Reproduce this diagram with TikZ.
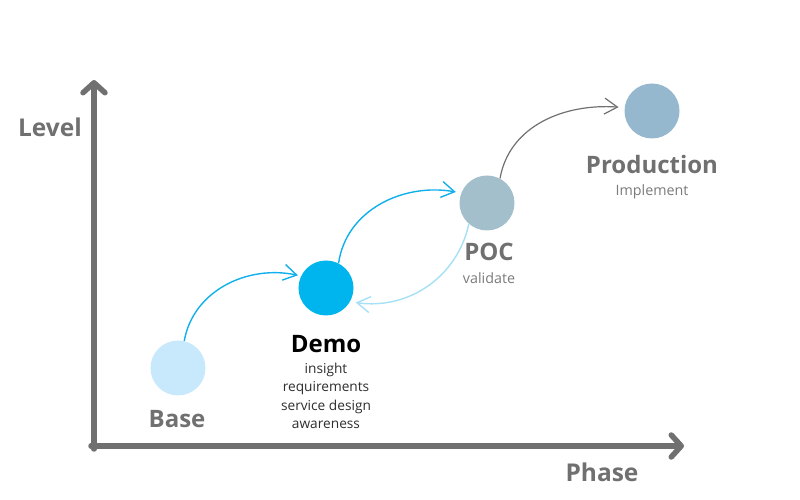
\documentclass[tikz,border=0pt]{standalone}
\usepackage{fontspec}
\setmainfont{Open Sans}
\usetikzlibrary{arrows.meta}
\definecolor{axisgray}{HTML}{707070}
\definecolor{basecol}{HTML}{C8E8FB}
\definecolor{democol}{HTML}{00B5EE}
\definecolor{poccol}{HTML}{A3BFCC}
\definecolor{prodcol}{HTML}{96B8CF}
\definecolor{arrowblue}{HTML}{12B0EA}
\definecolor{arrowlight}{HTML}{A6E0F6}
\definecolor{subgray}{HTML}{7A7A7A}
\definecolor{subdark}{HTML}{2E2E2E}
\tikzset{
  phase/.style={circle, minimum size=55pt, inner sep=0pt},
  axislabel/.style={font=\fontsize{24.5}{28}\selectfont\bfseries, text=axisgray},
  title/.style={font=\fontsize{24}{28}\selectfont\bfseries, text=axisgray},
  sub/.style={font=\fontsize{14.3}{17}\selectfont, text=subgray},
  axisline/.style={line width=5.5pt, draw=axisgray, line cap=round,
    -{Straight Barb[length=10pt,width=22pt,round]}},
  flow/.style={line width=1.4pt, -{Straight Barb[length=13pt,width=16pt]}},
}
\begin{document}
\begin{tikzpicture}[x=1pt,y=1pt]
\useasboundingbox (0,0) rectangle (800,500);
% axes
\coordinate (ytip) at (94,420);
\coordinate (xtip) at (684,54);
\coordinate (ybot) at (94,51);
\coordinate (xleft) at (91,54);
\draw[axisline] (ybot) -- (ytip);
\draw[axisline] (xleft) -- (xtip);
\node[axislabel] (level) at (50,373) {Level};
\node[axislabel] (phaselbl) at (602,28) {Phase};
% circles
\node[phase, fill=basecol] (base) at (178,132) {};
\node[phase, fill=democol] (demo) at (326,212) {};
\node[phase, fill=poccol] (poc) at (487,297) {};
\node[phase, fill=prodcol] (prod) at (652,389) {};
% labels
\node[title] (baselbl) at (177,81) {Base};
\node[title, text=black] (demolbl) at (326,156) {Demo};
\node[sub, text=subdark, align=center, font=\fontsize{13.7}{18.5}\selectfont] (demosub) at (326,104) {insight\\requirements\\service design\\awareness};
\node[title] (poclbl) at (489,248) {POC};
\node[sub] (pocsub) at (489,222) {validate};
\node[title] (prodlbl) at (652,335) {Production};
\node[sub] (prodsub) at (652,308) {Implement};
% connectors
\draw[flow, draw=arrowblue] (base.77) to[out=80,in=168] ([shift={(-3,1)}]demo.155);
\draw[flow, draw=arrowblue] (demo.63) to[out=82,in=170] ([shift={(-5,2)}]poc.161);
\draw[flow, draw=arrowlight] (poc.229) to[out=258,in=-8] ([shift={(5,-2)}]demo.-27);
\draw[flow, draw=axisgray, line width=1.2pt] (poc.62) to[out=80,in=176] ([shift={(-6,0)}]prod.172);
\end{tikzpicture}
\end{document}
